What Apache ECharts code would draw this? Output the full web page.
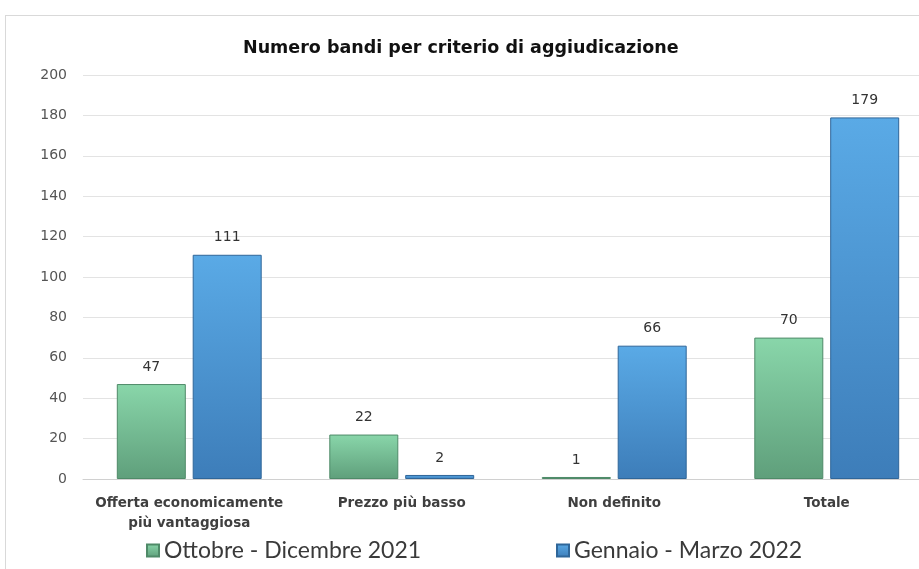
<!DOCTYPE html>
<html>
<head>
<meta charset="utf-8">
<script src="https://cdn.jsdelivr.net/npm/echarts@6/dist/echarts.min.js"></script>
<style>
  html, body { margin: 0; padding: 0; background: #fff; overflow: hidden; }
  #frame { position: absolute; left: 5px; top: 15px; width: 930px; height: 570px; border: 1px solid #d9d9d9; box-sizing: border-box; }
  #chart { position: absolute; left: 0; top: 0; width: 940px; height: 569px; }
</style>
</head>
<body>
<div id="frame"></div>
<div id="chart"></div>
<script>
// categorie e valori
const categories = ['Offerta economicamente\npiù vantaggiosa', 'Prezzo più basso', 'Non definito', 'Totale'];
const ottDic2021 = [47, 22, 1, 70];
const genMar2022 = [111, 2, 66, 179];
const seriesNames = ['Ottobre - Dicembre 2021', 'Gennaio - Marzo 2022'];

let chart = echarts.init(document.getElementById('chart'));

function grad(top, bottom) {
    return new echarts.graphic.LinearGradient(0, 0, 0, 1, [
        { offset: 0, color: top },
        { offset: 1, color: bottom }
    ]);
}

let labelStyle = {
    show: true,
    position: 'top',
    distance: 10,
    color: '#333',
    fontSize: 14,
    fontFamily: 'DejaVu Sans'
};

let legendBase = {
    top: 534,
    itemWidth: 12,
    itemHeight: 12,
    itemGap: 4,
    icon: 'rect',
    textStyle: {
        fontFamily: 'Lato',
        fontSize: 23,
        color: '#3a3a3a'
    }
};

let option = {
    animation: false,
    title: {
        text: 'Numero bandi per criterio di aggiudicazione',
        left: 238,
        top: 34,
        textStyle: {
            fontFamily: 'DejaVu Sans',
            fontWeight: 'bold',
            fontSize: 17.5,
            color: '#111'
        }
    },
    legend: [
        Object.assign({}, legendBase, { left: 141, data: [seriesNames[0]] }),
        Object.assign({}, legendBase, { left: 551, data: [seriesNames[1]] })
    ],
    grid: {
        left: 83,
        right: 7,
        top: 75,
        bottom: 90,
        containLabel: false
    },
    xAxis: {
        type: 'category',
        data: categories,
        axisLine: { lineStyle: { color: '#d0d0d0', width: 1 } },
        axisTick: { show: false },
        axisLabel: {
            color: '#3f3f3f',
            fontFamily: 'DejaVu Sans',
            fontWeight: 'bold',
            fontSize: 13.5,
            lineHeight: 20,
            margin: 14,
            interval: 0
        }
    },
    yAxis: {
        type: 'value',
        min: 0,
        max: 200,
        interval: 20,
        axisLine: { show: false },
        axisTick: { show: false },
        splitLine: { lineStyle: { color: '#e3e3e3' } },
        axisLabel: {
            color: '#555',
            fontFamily: 'DejaVu Sans',
            fontSize: 14,
            margin: 16,
            align: 'right'
        }
    },
    series: [
        {
            name: seriesNames[0],
            type: 'bar',
            data: ottDic2021,
            barWidth: 69,
            barGap: '10%',
            itemStyle: {
                color: grad('#89d6aa', '#5f9f7b'),
                borderColor: '#4f8a68',
                borderWidth: 1
            },
            label: labelStyle
        },
        {
            name: seriesNames[1],
            type: 'bar',
            data: genMar2022,
            barWidth: 69,
            itemStyle: {
                color: grad('#5aaae6', '#3d7db9'),
                borderColor: '#2f6699',
                borderWidth: 1
            },
            label: labelStyle
        }
    ]
};
chart.setOption(option, true);
</script>
</body>
</html>
